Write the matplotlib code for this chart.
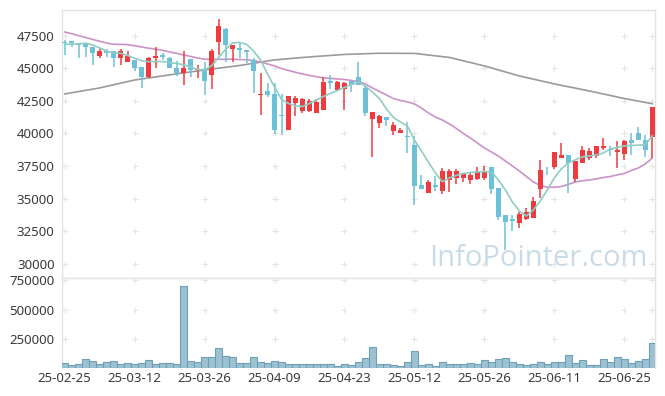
import matplotlib
matplotlib.use("Agg")
import matplotlib.pyplot as plt
import numpy as np

plt.rcParams['font.family'] = ['Noto Sans', 'DejaVu Sans']

# -------- data --------
tick_pos = [0, 10, 20, 30, 40, 50, 60, 70, 80]
tick_labels = ['25-02-25', '25-03-12', '25-03-26', '25-04-09', '25-04-23',
               '25-05-12', '25-05-26', '25-06-11', '25-06-25']

opens = [47050, 47100, 46950, 46850, 46600, 45950, 46300, 46300, 45750, 45500,
         45650, 45100, 44300, 45750, 46000, 45750, 45050, 44650, 45700, 44850,
         44850, 44450, 47050, 48000, 46450, 46550, 46400, 45600, 42950, 43250,
         43050, 41450, 40250, 42300, 41700, 41700, 41600, 41800, 44050, 43350,
         43400, 44050, 44300, 43500, 41100, 40800, 41250, 40200, 40000, 39800,
         39100, 36050, 35450, 36050, 35550, 36450, 36600, 36600, 36400, 36500,
         36600, 37400, 35800, 33750, 33450, 33100, 33450, 33550, 35750, 37450,
         37400, 38150, 38350, 36500, 37750, 38150, 38300, 38850, 38800, 38600,
         38450, 39500, 40000, 39500, 39750]
highs = [47150, 47100, 46950, 46850, 46650, 46500, 46450, 46300, 46500, 46300,
         45650, 45100, 45900, 46600, 46150, 45900, 45550, 46350, 45700, 45250,
         45500, 46450, 48750, 48050, 46800, 46900, 46400, 45750, 44650, 43900,
         43850, 43000, 42900, 42900, 42750, 42650, 42650, 44300, 44450, 44000,
         43950, 44050, 45500, 43650, 41650, 41400, 41250, 40850, 40450, 40850,
         39800, 36800, 36450, 36700, 37350, 37300, 37250, 36950, 36950, 37450,
         37500, 37450, 35800, 33750, 33750, 34000, 34250, 35150, 37950, 37450,
         38550, 39250, 38350, 37850, 39050, 38850, 39000, 39650, 39000, 39400,
         39500, 40000, 40500, 39900, 42000]
lows = [46050, 46650, 45750, 45900, 45250, 45750, 45850, 45100, 45250, 45450,
        44800, 43450, 44250, 45000, 45650, 45000, 44400, 43700, 44300, 44250,
        42950, 43400, 46000, 45500, 45450, 45750, 45400, 43100, 41450, 42800,
        39950, 39900, 40250, 41300, 41600, 41650, 41550, 41800, 43400, 43300,
        41800, 43200, 43700, 41300, 38200, 40450, 40550, 39900, 40000, 38500,
        34500, 35750, 35400, 35550, 35350, 35500, 36100, 36300, 36100, 36450,
        36450, 35350, 33350, 31050, 32550, 32750, 33350, 33500, 35050, 36800,
        37250, 38100, 35400, 36300, 37700, 38000, 38100, 38750, 38250, 37350,
        37950, 38350, 39500, 38200, 38150]
closes = [46900, 46900, 46800, 46650, 46200, 46300, 46150, 45750, 46350, 45950,
          45050, 44300, 45750, 45950, 45900, 45050, 44650, 45050, 44900, 44900,
          44050, 46300, 48250, 46750, 46800, 46400, 46250, 44800, 43050, 42950,
          40250, 41300, 42900, 42750, 42650, 42500, 42450, 43950, 43900, 43950,
          43900, 43750, 43700, 41600, 41650, 41350, 41050, 40650, 40250, 39750,
          36000, 35750, 36250, 35900, 37100, 37100, 37100, 36900, 36800, 37100,
          37050, 35750, 33600, 33200, 33300, 33800, 34000, 34850, 37200, 37400,
          38550, 38350, 37700, 37850, 38750, 38650, 39000, 39050, 38750, 38750,
          39400, 39250, 39500, 38700, 42000]
volumes = [40000, 23000, 32000, 74000, 57000, 32000, 49000, 57000, 32000, 40000,
           32000, 40000, 66000, 32000, 40000, 40000, 32000, 702000, 57000, 49000,
           91000, 91000, 169000, 100000, 91000, 40000, 40000, 91000, 49000, 40000,
           57000, 49000, 32000, 32000, 32000, 32000, 32000, 32000, 32000, 13000,
           32000, 23000, 49000, 83000, 177000, 32000, 32000, 23000, 14500, 49000,
           143000, 23000, 32000, 14500, 49000, 32000, 32000, 32000, 40000, 32000,
           66000, 49000, 74500, 83000, 49000, 32000, 23000, 32000, 49000, 32000,
           49000, 49000, 109000, 40000, 66000, 23000, 23000, 74500, 49000, 91600,
           74500, 40000, 57000, 74500, 211000]
ma5 = [46840, 46840, 46880, 46920, 46790, 46560, 46300, 46210, 46150, 45980,
       45770, 45580, 45510, 45510, 45510, 45450, 45370, 45270, 45100, 44910,
       44870, 45180, 45830, 46440, 46940, 46980, 46830, 46330, 45640, 44560,
       43570, 42610, 42300, 42110, 42070, 42300, 42570, 42840, 43070, 43300,
       43530, 43760, 43950, 43640, 43180, 42680, 41880, 41230, 40880, 40570,
       39500, 38660, 37810, 36970, 36300, 36590, 36780, 36930, 37010, 37050,
       37070, 37050, 36430, 35670, 34750, 34060, 33670, 34130, 34820, 35670,
       36590, 37280, 37740, 37970, 38200, 38270, 38350, 38500, 38810, 38930,
       39040, 39080, 39100, 39120, 39810]
ma20 = [47780, 47650, 47500, 47360, 47210, 47070, 46930, 46840, 46830, 46810,
        46730, 46630, 46540, 46460, 46370, 46250, 46140, 46020, 45910, 45790,
        45690, 45690, 45690, 45690, 45690, 45670, 45650, 45600, 45480, 45330,
        45180, 44980, 44830, 44690, 44560, 44450, 44350, 44270, 44220, 44180,
        44140, 44060, 43990, 43800, 43490, 43220, 42950, 42680, 42530, 42420,
        42260, 41950, 41570, 41260, 41030, 40730, 40380, 40000, 39650, 39270,
        38890, 38580, 38270, 37890, 37510, 37120, 36700, 36280, 36010, 35870,
        35870, 35930, 36090, 36280, 36370, 36430, 36510, 36620, 36700, 36820,
        36930, 37160, 37350, 37660, 38100]
ma120_idx = [0, 5, 10, 15, 20, 25, 30, 35, 40, 45, 50, 55, 60, 65, 70, 75, 80, 84]
ma120 = [43030, 43490, 44100, 44490, 44870, 45210, 45640, 45870, 46060, 46150,
         46140, 45830, 45180, 44410, 43800, 43260, 42680, 42280]

UP = '#ef3b3f'
DOWN = '#6cc1d9'
GRID = '#e4e4e4'
SPINE = '#e3e3e3'
TXT = '#3a3a3a'

fig = plt.figure(figsize=(6.65, 3.96), dpi=100)
ax = fig.add_axes([0.0925, 0.2992, 0.8925, 0.6743])
axv = fig.add_axes([0.0925, 0.0707, 0.8925, 0.2285], sharex=ax)

x = np.arange(len(closes))
o = np.array(opens)
c = np.array(closes)
up = c >= o
colors = np.where(up, UP, DOWN)

# watermark
ax.text(0.988, 0.045, 'InfoPointer.com', transform=ax.transAxes, ha='right',
        va='baseline', fontsize=21, color='#c9dbe6', family=['Open Sans', 'DejaVu Sans'],
        zorder=0)

# moving averages
ax.plot(ma120_idx, ma120, color='#9a9a9a', lw=1.2, zorder=2)
ax.plot(x, ma20, color='#cc92c6', lw=1.2, zorder=2)

# candles
ax.vlines(x, lows, highs, colors=colors, lw=1.1, zorder=3)
body_h = np.abs(c - o)
body_h = np.where(body_h < 60, 60, body_h)
ax.bar(x, body_h, bottom=np.minimum(o, c), width=0.66, color=colors, lw=0, zorder=4)

ax.plot(x, ma5, color='#8fcdc3', lw=1.2, zorder=5)

# volume
axv.bar(x, volumes, width=1.0, color='#9cc2d2', edgecolor='#6f9fb6', lw=0.8, zorder=3)

# grid crosses at tick intersections
price_ticks = [30000, 32500, 35000, 37500, 40000, 42500, 45000, 47500]
vol_ticks = [250000, 500000, 750000]
gx = tick_pos + [84]
for t in price_ticks:
    ax.plot(gx, [t] * len(gx), ls='none', marker='+', ms=4, mew=0.8, color=GRID, zorder=1)
for t in vol_ticks:
    axv.plot(gx, [t] * len(gx), ls='none', marker='+', ms=4, mew=0.8, color=GRID, zorder=1)

ax.set_xlim(-0.45, 84.4)
ax.set_ylim(28950, 49430)
axv.set_ylim(0, 775000)

ax.set_yticks(price_ticks)
ax.set_yticklabels([str(t) for t in price_ticks])
axv.set_yticks(vol_ticks)
axv.set_yticklabels([str(t) for t in vol_ticks])
axv.set_xticks(tick_pos)
axv.set_xticklabels(tick_labels)
ax.tick_params(axis='x', labelbottom=False, length=0)

for a in (ax, axv):
    a.tick_params(length=0, labelsize=9.5, colors=TXT, pad=5)
    for s in a.spines.values():
        s.set_color(SPINE)
        s.set_linewidth(1.0)
axv.spines['bottom'].set_visible(False)
axv.tick_params(axis='x', pad=3)

plt.savefig('out.png', dpi=100)
